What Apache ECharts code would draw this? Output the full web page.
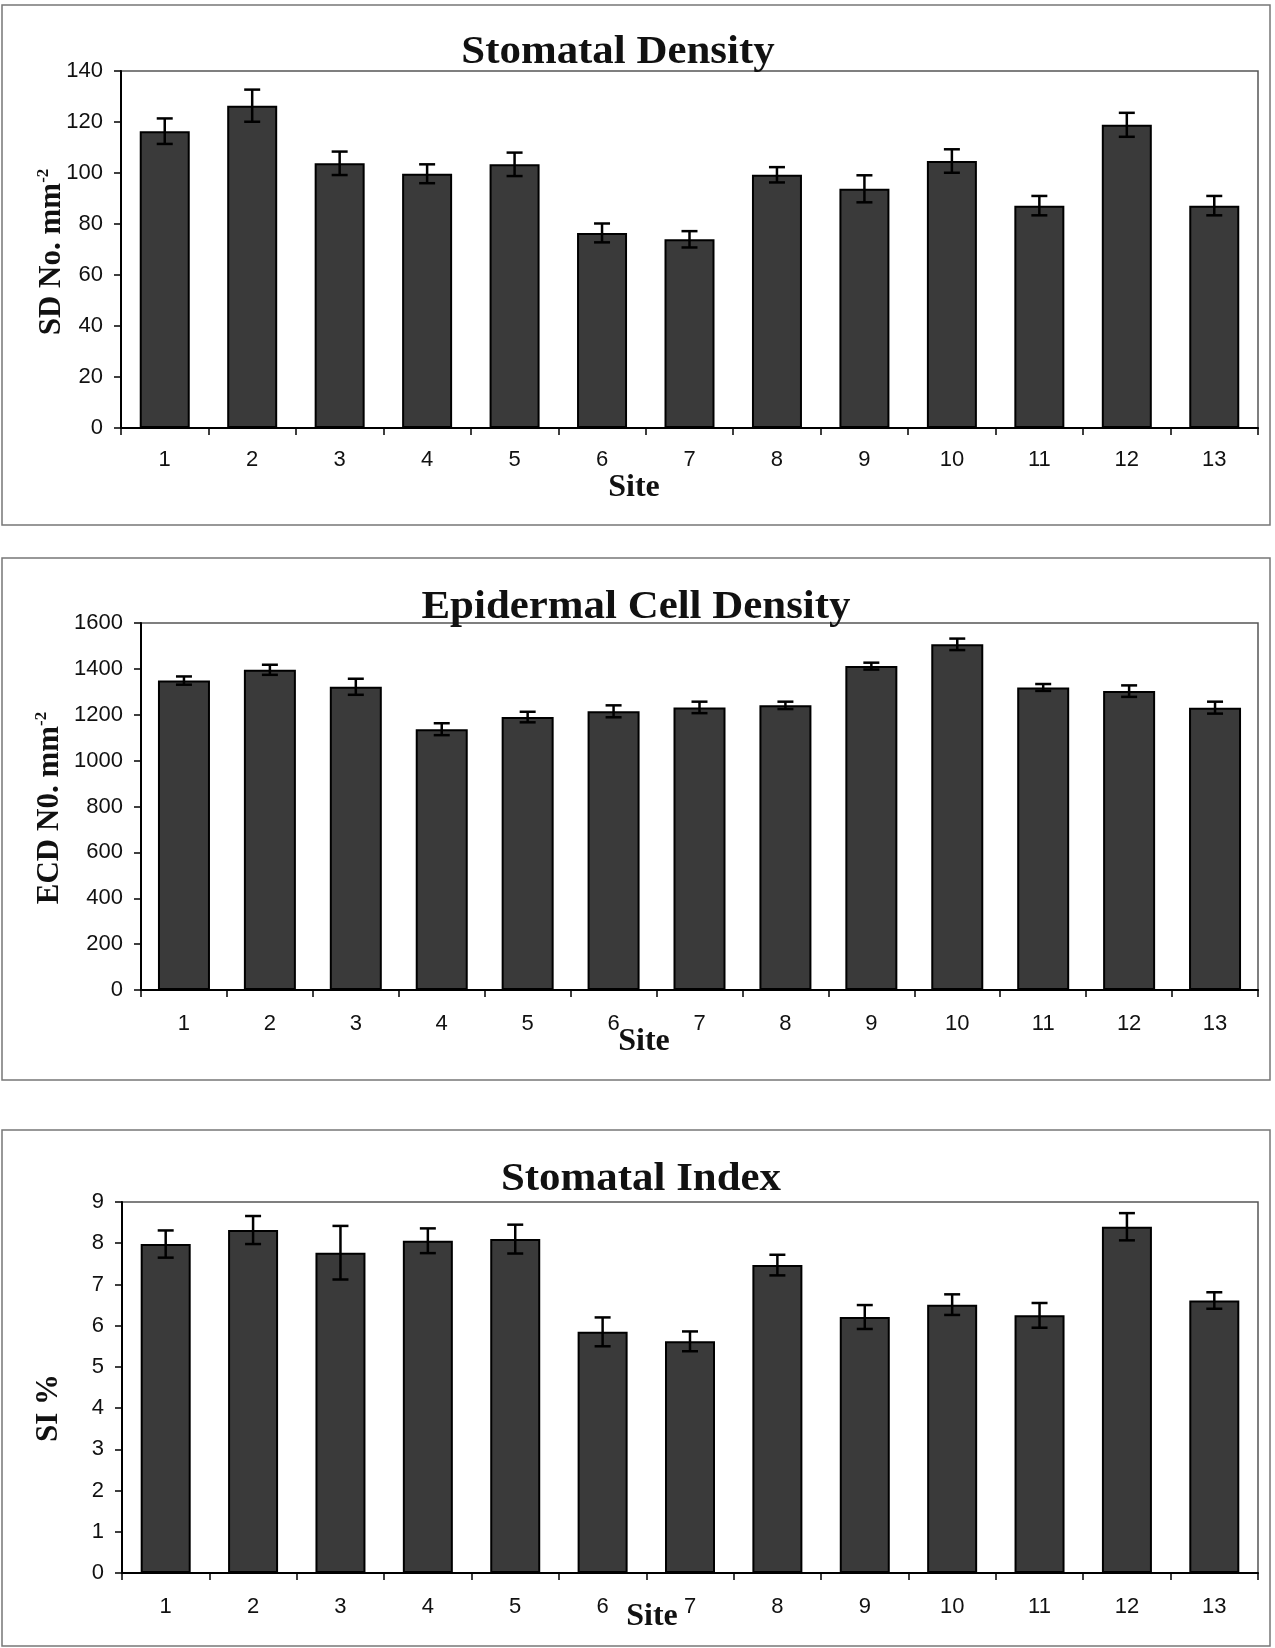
<!DOCTYPE html>
<html>
<head>
<meta charset="utf-8">
<script src="https://cdn.jsdelivr.net/npm/echarts@6/dist/echarts.min.js"></script>
<style>
  html, body { margin: 0; padding: 0; background: #fff; }
  #chart { width: 1275px; height: 1648px; }
</style>
</head>
<body>
<div id="chart"></div>
<script>
// ---- data ----
const sites = ['1','2','3','4','5','6','7','8','9','10','11','12','13'];

const sdMean = [116.4, 126.4, 103.8, 99.7, 103.4, 76.5, 74.0, 99.3, 93.8, 104.7, 87.2, 118.9, 87.2];
const sdErr  = [5.0, 6.3, 4.6, 3.7, 4.6, 3.7, 3.2, 3.0, 5.3, 4.6, 3.8, 4.7, 3.8];

const ecdMean = [1349, 1396, 1322, 1137, 1190, 1215, 1232, 1241, 1412, 1507, 1319, 1303, 1231];
const ecdErr  = [18, 22, 35, 26, 23, 26, 25, 16, 15, 25, 15, 25, 26];

const siMean = [7.98, 8.32, 7.77, 8.06, 8.10, 5.85, 5.62, 7.47, 6.21, 6.51, 6.25, 8.40, 6.61];
const siErr  = [0.33, 0.34, 0.65, 0.30, 0.35, 0.35, 0.24, 0.25, 0.29, 0.25, 0.30, 0.33, 0.20];

const titles = ['Stomatal Density', 'Epidermal Cell Density', 'Stomatal Index'];
const xName = 'Site';

// ---- chart ----
const chart = echarts.init(document.getElementById('chart'), null, { renderer: 'canvas' });

const labelFont = 'Liberation Sans, Arial, sans-serif';
const serifFont = 'Liberation Serif, Times New Roman, serif';

function errRender(params, api) {
  const i = api.value(0), v = api.value(1), e = api.value(2);
  const top = api.coord([i, v + e]);
  const bot = api.coord([i, v - e]);
  const hw = 8;
  const st = { stroke: '#000', lineWidth: 2.5 };
  return {
    type: 'group',
    children: [
      { type: 'line', shape: { x1: top[0], y1: top[1], x2: bot[0], y2: bot[1] }, style: st },
      { type: 'line', shape: { x1: top[0] - hw, y1: top[1], x2: top[0] + hw, y2: top[1] }, style: st },
      { type: 'line', shape: { x1: bot[0] - hw, y1: bot[1], x2: bot[0] + hw, y2: bot[1] }, style: st }
    ]
  };
}

const grids = [
  { left: 121, top: 71, right: 17, height: 357 },
  { left: 141, top: 623, right: 17, height: 367 },
  { left: 122, top: 1202, right: 17, height: 371 }
];

const yDefs = [
  { min: 0, max: 140, interval: 20 },
  { min: 0, max: 1600, interval: 200 },
  { min: 0, max: 9, interval: 1 }
];

const xMargins = [21, 23, 23];
const barWidths = [50, 52, 50];
const means = [sdMean, ecdMean, siMean];
const errs = [sdErr, ecdErr, siErr];

const option = {
  animation: false,
  backgroundColor: '#fff',
  grid: grids.map(g => Object.assign({ show: true, borderColor: '#555', borderWidth: 1.5, backgroundColor: 'transparent' }, g)),
  xAxis: grids.map((g, k) => ({
    type: 'category',
    gridIndex: k,
    data: sites,
    boundaryGap: true,
    axisLine: { show: true, lineStyle: { color: '#000', width: 2 } },
    axisTick: { show: true, inside: false, length: 7, interval: 0, lineStyle: { color: '#000', width: 1.5 } },
    axisLabel: { show: true, interval: 0, margin: xMargins[k], fontFamily: labelFont, fontSize: 22, color: '#111' },
    splitLine: { show: false }
  })),
  yAxis: grids.map((g, k) => ({
    type: 'value',
    gridIndex: k,
    min: yDefs[k].min,
    max: yDefs[k].max,
    interval: yDefs[k].interval,
    axisLine: { show: true, lineStyle: { color: '#000', width: 2 } },
    axisTick: { show: true, inside: false, length: 7, lineStyle: { color: '#000', width: 1.5 } },
    axisLabel: { margin: 18, fontFamily: labelFont, fontSize: 22, color: '#111', formatter: v => String(v) },
    splitLine: { show: false }
  })),
  series: [],
  graphic: []
};

for (let k = 0; k < 3; k++) {
  option.series.push({
    type: 'bar',
    xAxisIndex: k, yAxisIndex: k,
    data: means[k],
    barWidth: barWidths[k],
    itemStyle: { color: '#3a3a3a', borderColor: '#000', borderWidth: 2 },
    z: 2
  });
  option.series.push({
    type: 'custom',
    xAxisIndex: k, yAxisIndex: k,
    renderItem: errRender,
    encode: { x: 0, y: 1 },
    data: means[k].map((m, i) => [i, m, errs[k][i]]),
    z: 5
  });
}

// panel frames
const frames = [[2, 5, 1268, 520], [2, 558, 1268, 522], [2, 1130, 1268, 516]];
frames.forEach(f => option.graphic.push({
  type: 'rect', shape: { x: f[0], y: f[1], width: f[2], height: f[3] },
  style: { fill: 'none', stroke: '#777', lineWidth: 1.5 }, z: 0, silent: true
}));

// titles
const titlePos = [[618, 53], [636, 608], [641, 1180]];
titles.forEach((t, k) => option.graphic.push({
  type: 'text', x: titlePos[k][0], y: titlePos[k][1], scaleX: 1.1, z: 10,
  style: { text: t, font: 'bold 39px ' + serifFont, fill: '#111', align: 'center', verticalAlign: 'middle' }
}));

// x axis names
const sitePos = [[634, 488], [644, 1042], [652, 1617]];
sitePos.forEach(p => option.graphic.push({
  type: 'text', x: p[0], y: p[1], z: 10,
  style: { text: xName, font: 'bold 32px ' + serifFont, fill: '#111', align: 'center', verticalAlign: 'middle' }
}));

// y axis names (rotated, with superscript)
const yNames = [
  { x: 52, y: 252, text: '{a|SD No. mm}{s|-2}' },
  { x: 50, y: 808, text: '{a|ECD N0. mm}{s|-2}' },
  { x: 49, y: 1408, text: '{a|SI %}' }
];
yNames.forEach(n => option.graphic.push({
  type: 'text', x: n.x, y: n.y, rotation: Math.PI / 2, z: 10,
  style: {
    text: n.text, align: 'center', verticalAlign: 'middle',
    rich: {
      a: { fontFamily: serifFont, fontWeight: 'bold', fontSize: 31, fill: '#111', color: '#111', lineHeight: 34 },
      s: { fontFamily: serifFont, fontWeight: 'bold', fontSize: 17, fill: '#111', color: '#111', verticalAlign: 'top', lineHeight: 34 }
    }
  }
}));

chart.setOption(option);
</script>
</body>
</html>
